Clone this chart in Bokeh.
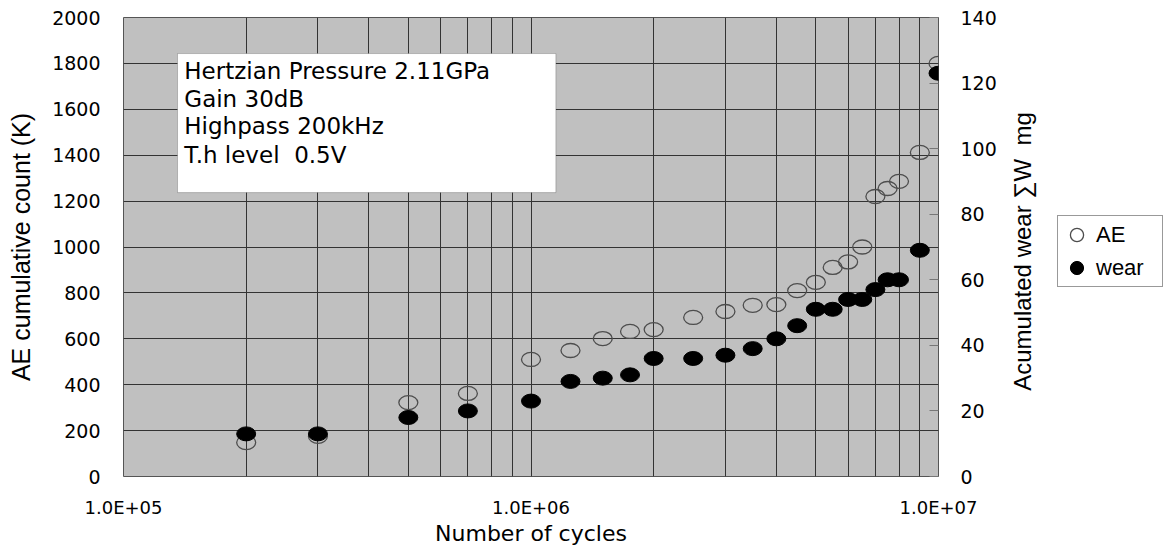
import math
from bokeh.plotting import figure
from bokeh.layouts import row
from bokeh.models import (Range1d, LinearAxis, FixedTicker, CustomJSTickFormatter,
                          Legend, LegendItem, BoxAnnotation, Label)
from bokeh.embed import file_html
from bokeh.resources import INLINE

# ---- data ----
cycles = [2e5, 3e5, 5e5, 7e5, 1e6, 1.25e6, 1.5e6, 1.75e6, 2e6, 2.5e6, 3e6, 3.5e6,
          4e6, 4.5e6, 5e6, 5.5e6, 6e6, 6.5e6, 7e6, 7.5e6, 8e6, 9e6, 1e7]
ae_count = [148, 175, 322, 362, 510, 549, 601, 632, 640, 693, 719, 746,
            749, 810, 846, 911, 935, 1000, 1220, 1255, 1286, 1412, 1800]
wear_mg = [13, 13, 18, 20, 23, 29, 30, 31, 36, 36, 37, 39,
           42, 46, 51, 51, 54, 54, 57, 60, 60, 69, 123]

x_major_ticks = [1e5, 1e6, 1e7]
x_minor_ticks = [m * d for d in (1e5, 1e6) for m in range(2, 10)]
ae_ticks = list(range(0, 2001, 200))
wear_ticks = list(range(0, 141, 20))

NBSP = "\u00a0"
info_lines = ["Hertzian Pressure 2.11GPa", "Gain 30dB", "Highpass 200kHz",
              "T.h level " + NBSP + "0.5V"]
info_x = 1.41e5
info_y = [1769, 1647, 1529, 1403]
info_box = dict(left=1.357e5, right=1.151e6, bottom=1237, top=1843)
right_label = "Acumulated wear \u2211W " + NBSP + "mg"

GRID = "#333333"
TICK_FONT = "DejaVu Sans"
MAIN_W, SIDE_W, H = 1000, 165, 549
B_TOP, B_BOTTOM = 17, 73
FRAME_H = H - B_TOP - B_BOTTOM

p = figure(width=MAIN_W, height=H, x_axis_type="log",
           x_range=Range1d(1e5, 1e7), y_range=Range1d(0, 2000),
           output_backend="svg", toolbar_location=None,
           min_border_left=123, min_border_right=62,
           min_border_top=B_TOP, min_border_bottom=B_BOTTOM)
p.extra_y_ranges = {"wear": Range1d(0, 140)}
p.background_fill_color = "#c0c0c0"
p.border_fill_color = "white"
p.outline_line_color = "#555555"
p.outline_line_width = 1

# x axis
xt = FixedTicker(ticks=x_major_ticks, minor_ticks=x_minor_ticks)
xa = p.xaxis[0]
xa.ticker = xt
xa.formatter = CustomJSTickFormatter(code="""
const s = tick.toExponential(1).toUpperCase();
const parts = s.split('E');
const sign = parts[1][0];
let d = parts[1].slice(1);
if (d.length < 2) { d = '0' + d; }
return parts[0] + 'E' + sign + d;
""")
xa.axis_label = "Number of cycles"
xa.axis_label_text_font = TICK_FONT
xa.axis_label_text_font_size = "22px"
xa.axis_label_text_font_style = "normal"
xa.axis_label_text_color = "black"
xa.axis_label_standoff = 0
xa.major_label_text_font = TICK_FONT
xa.major_label_text_font_size = "18px"
xa.major_label_text_color = "black"
xa.major_label_standoff = 20
xa.axis_line_color = None
xa.major_tick_out = 0
xa.major_tick_in = 0
xa.minor_tick_out = 0
xa.minor_tick_in = 0

# left axis
ya = p.yaxis[0]
ya.ticker = FixedTicker(ticks=ae_ticks)
ya.axis_label = "AE cumulative count (K)"
ya.axis_label_text_font = "Liberation Sans"
ya.axis_label_text_font_size = "25px"
ya.axis_label_text_font_style = "normal"
ya.axis_label_text_color = "black"
ya.axis_label_standoff = 14
ya.major_label_text_font = TICK_FONT
ya.major_label_text_font_size = "19px"
ya.major_label_text_color = "black"
ya.major_label_standoff = 23
ya.axis_line_color = None
ya.major_tick_out = 0
ya.major_tick_in = 0
ya.minor_tick_out = 0
ya.minor_tick_in = 0

# right axis (its title is drawn in the side figure)
ra = LinearAxis(y_range_name="wear", ticker=FixedTicker(ticks=wear_ticks))
ra.major_label_text_font = TICK_FONT
ra.major_label_text_font_size = "19px"
ra.major_label_text_color = "black"
ra.major_label_standoff = 22
ra.axis_line_color = None
ra.major_tick_in = 9
ra.major_tick_out = 0
ra.major_tick_line_color = "#777777"
ra.minor_tick_in = 0
ra.minor_tick_out = 0
p.add_layout(ra, "right")

# grids
p.xgrid.ticker = xt
p.xgrid.grid_line_color = GRID
p.xgrid.grid_line_width = 1
p.xgrid.minor_grid_line_color = GRID
p.xgrid.minor_grid_line_width = 1
p.ygrid.grid_line_color = GRID
p.ygrid.grid_line_width = 1

# text box
p.add_layout(BoxAnnotation(fill_color="white", fill_alpha=1.0, line_color="#444444",
                           line_width=1, level="annotation", **info_box))
for txt, yy in zip(info_lines, info_y):
    p.add_layout(Label(x=info_x, y=yy, text=txt, text_baseline="middle",
                       text_align="left", text_font=TICK_FONT,
                       text_font_size="23px", text_color="black"))

# data
AE_STYLE = dict(fill_color=None, line_color="#4d4d4d", line_width=1.3)
WEAR_STYLE = dict(fill_color="black", line_color="black", line_width=1)
p.ellipse(cycles, ae_count, width=19, height=14,
          width_units="screen", height_units="screen", **AE_STYLE)
p.ellipse(cycles, wear_mg, width=19, height=14,
          width_units="screen", height_units="screen",
          y_range_name="wear", **WEAR_STYLE)

# ---- side figure: right-axis title and legend (pixel-like ranges) ----
s = figure(width=SIDE_W, height=H, x_range=Range1d(0, SIDE_W), y_range=Range1d(0, FRAME_H),
           output_backend="svg", toolbar_location=None,
           x_axis_location=None, y_axis_location=None,
           min_border_left=0, min_border_right=0,
           min_border_top=B_TOP, min_border_bottom=B_BOTTOM)
s.grid.visible = False
s.outline_line_color = None
s.background_fill_color = "white"
s.border_fill_color = "white"

s.add_layout(Label(x=22, y=225, text=right_label, angle=math.pi / 2,
                   text_align="center", text_baseline="middle",
                   text_font="Liberation Sans", text_font_size="24px",
                   text_color="black"))

# legend keys: same series, outside this figure's visible range
k_ae = s.scatter(cycles, ae_count, marker="circle", size=13, **AE_STYLE)
k_wear = s.scatter(cycles, wear_mg, marker="circle", size=13, **WEAR_STYLE)
legend = Legend(items=[LegendItem(label="AE", renderers=[k_ae]),
                       LegendItem(label="wear", renderers=[k_wear])],
                location=(57, 189))
legend.border_line_color = "#333333"
legend.border_line_width = 1
legend.background_fill_color = "white"
legend.background_fill_alpha = 1.0
legend.label_text_font = "Liberation Sans"
legend.label_text_font_size = "22px"
legend.label_text_color = "black"
legend.label_height = 33
legend.label_width = 64
legend.glyph_height = 33
legend.glyph_width = 33
legend.label_standoff = 3
legend.spacing = 0
legend.padding = 2
legend.margin = 0
s.add_layout(legend)

layout = row(p, s)
html = file_html(layout, INLINE)
open("out.html", "w").write(html)
